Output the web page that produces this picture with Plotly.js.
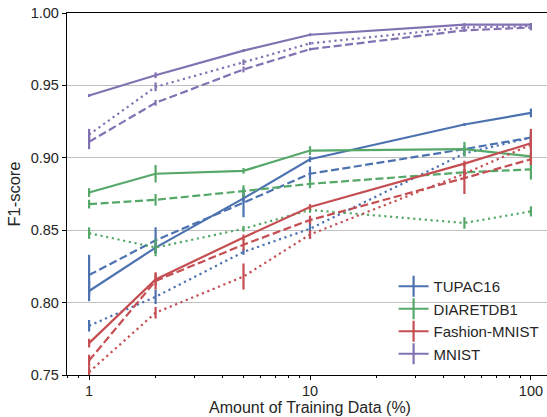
<!DOCTYPE html>
<html>
<head>
<meta charset="utf-8">
<script src="https://cdn.plot.ly/plotly-3.0.1.min.js"></script>
<style>
html,body{margin:0;padding:0;overflow:hidden;background:#fff;}
#chart{width:553px;height:417px;}
</style>
</head>
<body>
<div id="chart"></div>
<script>
// Amount of training data (%)
const xPct = [1, 2, 5, 10, 50, 100];

const datasets = ["TUPAC16", "DIARETDB1", "Fashion-MNIST", "MNIST"];
const colors = ["#4C72B0", "#55A868", "#C44E52", "#8172B2"];

// Solid / dashed / dotted variants per dataset (F1-score)
const tupacSolid   = [0.808, 0.838, 0.872, 0.899, 0.923, 0.931];
const tupacDash    = [0.819, 0.843, 0.869, 0.889, 0.906, 0.914];
const tupacDot     = [0.784, 0.804, 0.835, 0.851, 0.903, 0.914];
const diarSolid    = [0.876, 0.889, 0.891, 0.905, 0.906, 0.901];
const diarDash     = [0.868, 0.871, 0.877, 0.882, 0.890, 0.892];
const diarDot      = [0.848, 0.838, 0.851, 0.864, 0.855, 0.863];
const fashSolid    = [0.772, 0.816, 0.845, 0.866, 0.896, 0.910];
const fashDash     = [0.760, 0.815, 0.840, 0.857, 0.886, 0.899];
const fashDot      = [0.752, 0.793, 0.818, 0.847, 0.889, 0.909];
const mnistSolid   = [0.943, 0.957, 0.974, 0.985, 0.992, 0.992];
const mnistDash    = [0.911, 0.938, 0.961, 0.975, 0.988, 0.990];
const mnistDot     = [0.916, 0.949, 0.966, 0.979, 0.990, 0.991];

// Error-bar half widths
const tupacSolidErr = [0.007, 0.004, 0.003, 0.002, 0.001, 0.003];
const tupacDashErr  = [0.014, 0.009, 0.010, 0.005, 0.002, 0.004];
const tupacDotErr   = [0.004, 0.005, 0.002, 0.007, 0.002, 0.003];
const diarSolidErr  = [0.003, 0.006, 0.002, 0.003, 0.005, 0.002];
const diarDashErr   = [0.003, 0.004, 0.004, 0.003, 0.002, 0.007];
const diarDotErr    = [0.004, 0.006, 0.002, 0.002, 0.004, 0.0035];
const fashSolidErr  = [0.003, 0.004, 0.002, 0.002, 0.002, 0.004];
const fashDashErr   = [0.004, 0.006, 0.004, 0.003, 0.011, 0.004];
const fashDotErr    = [0.004, 0.004, 0.009, 0.003, 0.003, 0.011];
const mnistSolidErr = [0.001, 0.002, 0.001, 0.001, 0.001, 0.001];
const mnistDashErr  = [0.005, 0.002, 0.002, 0.001, 0.001, 0.002];
const mnistDotErr   = [0.004, 0.003, 0.002, 0.001, 0.001, 0.002];

const yTickVals = [0.75, 0.80, 0.85, 0.90, 0.95, 1.00];
const xTickVals = [1, 10, 100];
const xMinorVals = [0.8, 0.9, 2, 3, 4, 5, 6, 7, 8, 9, 20, 30, 40, 50, 60, 70, 80, 90];

const series = [
  [tupacSolid, tupacSolidErr, tupacDash, tupacDashErr, tupacDot, tupacDotErr],
  [diarSolid, diarSolidErr, diarDash, diarDashErr, diarDot, diarDotErr],
  [fashSolid, fashSolidErr, fashDash, fashDashErr, fashDot, fashDotErr],
  [mnistSolid, mnistSolidErr, mnistDash, mnistDashErr, mnistDot, mnistDotErr]
];
const dashes = ["solid", "8px,3.5px", "2.2px,3.6px"];

const traces = [];
series.forEach((s, i) => {
  for (let k = 0; k < 3; k++) {
    traces.push({
      x: xPct, y: s[2*k], type: "scatter", mode: "lines",
      line: {color: colors[i], width: 2.2, dash: dashes[k]},
      error_y: {type: "data", array: s[2*k+1], visible: true, color: colors[i], thickness: 2.2, width: 0},
      showlegend: false, hoverinfo: "skip", cliponaxis: true
    });
  }
});
// legend entries (cross symbol like the errorbar legend)
datasets.forEach((name, i) => {
  traces.push({
    x: [null], y: [null], type: "scatter", mode: "lines+markers", name: name,
    line: {color: colors[i], width: 2.2},
    marker: {symbol: "line-ns", size: 15, line: {color: colors[i], width: 2.2}},
    showlegend: true
  });
});

const font = {family: "Liberation Sans, Arial, sans-serif", color: "#262626"};

const layout = {
  width: 553, height: 417,
  margin: {l: 67, r: 0, t: 13, b: 42},
  paper_bgcolor: "#fff", plot_bgcolor: "#fff",
  font: Object.assign({size: 14.5}, font),
  showlegend: true,
  legend: {
    x: 0.672, y: 0.29, xanchor: "left", yanchor: "top",
    bgcolor: "rgba(0,0,0,0)", borderwidth: 0,
    font: Object.assign({size: 15}, font),
    tracegroupgap: 0
  },
  xaxis: {
    type: "log", range: [-0.1, 2.1],
    tickvals: xTickVals, ticktext: xTickVals.map(String),
    ticks: "outside", ticklen: 4, tickwidth: 1, tickcolor: "#000",
    minor: {tickvals: xMinorVals, ticks: "outside", ticklen: 2, tickwidth: 1, tickcolor: "#000", showgrid: false},
    showgrid: false, zeroline: false,
    showline: true, linecolor: "#000", linewidth: 1.2, mirror: true,
    tickfont: Object.assign({size: 14.5}, font),
    ticklabelstandoff: -2,
    title: {text: "Amount of Training Data (%)", font: Object.assign({size: 16}, font), standoff: 2}
  },
  yaxis: {
    range: [0.75, 1.0],
    tickvals: yTickVals, tickformat: ".2f",
    ticks: "outside", ticklen: 4, tickwidth: 1, tickcolor: "#000",
    showgrid: true, gridcolor: "#c0c0c0", gridwidth: 1,
    zeroline: false,
    showline: true, linecolor: "#000", linewidth: 1.2, mirror: true,
    tickfont: Object.assign({size: 14.5}, font),
    title: {text: "F1-score", font: Object.assign({size: 16.5}, font), standoff: 5}
  }
};

Plotly.newPlot("chart", traces, layout, {displayModeBar: false, staticPlot: true});
</script>
</body>
</html>
